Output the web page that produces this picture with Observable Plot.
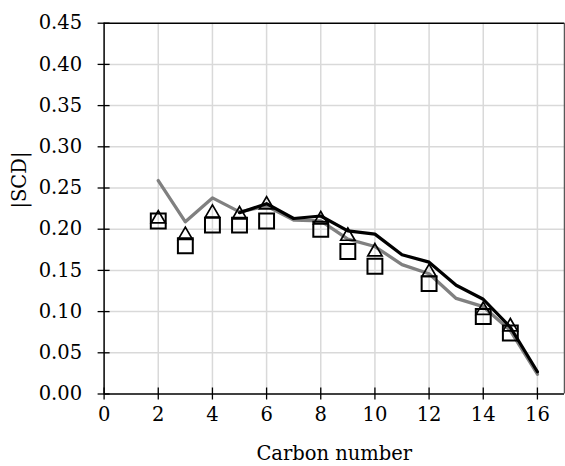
<!DOCTYPE html>
<html>
<head>
<meta charset="utf-8">
<script src="https://cdn.jsdelivr.net/npm/d3@7"></script>
<script src="https://cdn.jsdelivr.net/npm/@observablehq/plot@0.6"></script>
<style>
  html, body { margin: 0; padding: 0; background: white; }
</style>
</head>
<body>
<div id="chart"></div>
<script>
// Gray line series (carbon 2..16)
const grayCarbon = [2, 3, 4, 5, 6, 7, 8, 9, 10, 11, 12, 13, 14, 15, 16];
const grayValues = [0.259, 0.209, 0.238, 0.221, 0.228, 0.211, 0.210, 0.188, 0.179, 0.157, 0.146, 0.116, 0.106, 0.077, 0.024];

// Black line series (carbon 5..16)
const blackCarbon = [5, 6, 7, 8, 9, 10, 11, 12, 13, 14, 15, 16];
const blackValues = [0.220, 0.231, 0.213, 0.216, 0.198, 0.194, 0.169, 0.160, 0.132, 0.115, 0.081, 0.027];

// Marker series
const markerCarbon = [2, 3, 4, 5, 6, 8, 9, 10, 12, 14, 15];
const squareValues = [0.210, 0.180, 0.205, 0.205, 0.210, 0.200, 0.173, 0.155, 0.134, 0.094, 0.074];
const triangleValues = [0.215, 0.195, 0.222, 0.220, 0.232, 0.214, 0.194, 0.175, 0.150, 0.104, 0.084];

// Ticks
const xTicks = [0, 2, 4, 6, 8, 10, 12, 14, 16];
const yTicks = [0, 0.05, 0.10, 0.15, 0.20, 0.25, 0.30, 0.35, 0.40, 0.45];

const xLabel = "Carbon number";
const yLabel = "|SCD|";

const gray = grayCarbon.map((c, i) => ({c, v: grayValues[i]}));
const black = blackCarbon.map((c, i) => ({c, v: blackValues[i]}));
const squares = markerCarbon.map((c, i) => ({c, v: squareValues[i]}));
const triangles = markerCarbon.map((c, i) => ({c, v: triangleValues[i]}));

const chart = Plot.plot({
  width: 565,
  height: 466,
  marginLeft: 103.6,
  marginRight: 1,
  marginTop: 22.7,
  marginBottom: 72.5,
  x: {domain: [0, 17]},
  y: {domain: [0, 0.45]},
  style: {fontFamily: "DejaVu Serif", fontSize: "19.5px", background: "white", color: "#000"},
  marks: [
    Plot.gridX(xTicks.filter(d => d > 0), {stroke: "#d9d9d9", strokeOpacity: 1, strokeWidth: 1.5}),
    Plot.gridY(yTicks.filter(d => d > 0 && d < 0.45), {stroke: "#d9d9d9", strokeOpacity: 1, strokeWidth: 1.5}),
    Plot.ruleY([0.45], {stroke: "#000", strokeWidth: 1.5}),
    Plot.ruleX([17], {stroke: "#595959", strokeWidth: 1.5}),
    Plot.ruleX([0], {stroke: "#000", strokeWidth: 1.5}),
    Plot.ruleY([0], {stroke: "#000", strokeWidth: 1.5}),
    Plot.ruleX(xTicks, {x: d => d, y1: 0, y2: 0, insetTop: -6, insetBottom: -6, stroke: "#000", strokeWidth: 1.3}),
    Plot.ruleY(yTicks, {y: d => d, x1: 0, x2: 0, insetLeft: -6, insetRight: -6, stroke: "#000", strokeWidth: 1.3}),
    Plot.axisX({ticks: xTicks, tickSize: 0, tickPadding: 13, label: null, tickFormat: d3.format("d"), fontSize: 19.5}),
    Plot.axisY({ticks: yTicks, tickSize: 0, tickPadding: 22, label: null, tickFormat: d3.format(".2f"), fontSize: 19.5}),
    Plot.line(gray, {x: "c", y: "v", stroke: "#808080", strokeWidth: 3.3, strokeLinejoin: "round"}),
    Plot.line(black, {x: "c", y: "v", stroke: "#000", strokeWidth: 3.2, strokeLinejoin: "round"}),
    Plot.dot(squares, {x: "c", y: "v", symbol: "square", r: 8.4, stroke: "#000", strokeWidth: 2, fill: "none"}),
    Plot.dot(triangles, {x: "c", y: "v", symbol: "triangle", r: 5.3, dy: 2, stroke: "#000", strokeWidth: 1.7, fill: "none"}),
    Plot.text([xLabel], {frameAnchor: "bottom", dy: 60, lineAnchor: "middle", text: d => d, fontSize: 19.5}),
    Plot.text([yLabel], {frameAnchor: "left", dx: -84, rotate: -90, lineAnchor: "middle", text: d => d, fontSize: 19.5})
  ]
});
document.getElementById("chart").appendChild(chart);
</script>
</body>
</html>
